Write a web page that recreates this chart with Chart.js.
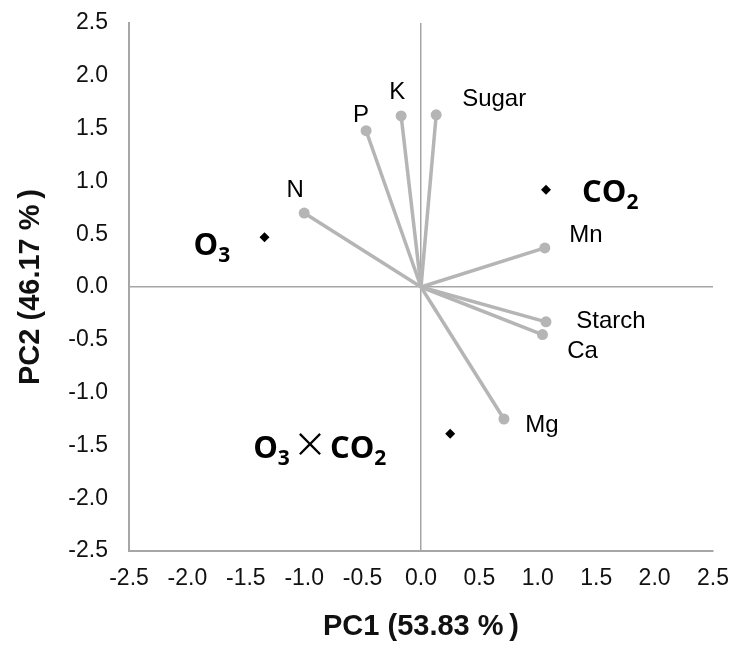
<!DOCTYPE html>
<html>
<head>
<meta charset="utf-8">
<script src="https://cdn.jsdelivr.net/npm/chart.js@4"></script>
<style>
  body { margin: 0; background: #fff; }
  #wrap { width: 729px; height: 645px; }
</style>
</head>
<body>
<div id="wrap"><canvas id="pca"></canvas></div>
<script>
// loadings (variables)
const varNames = ['P', 'K', 'Sugar', 'N', 'Mn', 'Starch', 'Ca', 'Mg'];
const varPC1 = [-0.47, -0.17, 0.13, -1.00, 1.06, 1.07, 1.04, 0.71];
const varPC2 = [1.48, 1.62, 1.63, 0.70, 0.37, -0.33, -0.45, -1.25];

// treatment scores
const trtNames = ['CO2', 'O3', 'O3xCO2'];
const trtPC1 = [1.07, -1.34, 0.25];
const trtPC2 = [0.92, 0.47, -1.39];

const axisTicks = [-2.5, -2.0, -1.5, -1.0, -0.5, 0.0, 0.5, 1.0, 1.5, 2.0, 2.5];

// label placement, pixel offset from the point (centre of text)
const varLabelOffset = {
  P: [-5, -15], K: [-4, -24], Sugar: [58, -15], N: [-9, -23],
  Mn: [41, -13], Starch: [65, 0], Ca: [40, 17], Mg: [38, 6]
};
// left edge / baseline offset for the bold treatment labels
const trtLabelOffset = { CO2: [36, 12], O3: [-71, 18], O3xCO2: [-197, 24] };

const gray = '#b5b5b5';
const tickFont = '"Liberation Sans", Arial, sans-serif';

const datasets = varNames.map((n, i) => ({
  label: n,
  data: [{ x: 0, y: 0 }, { x: varPC1[i], y: varPC2[i] }],
  showLine: true,
  borderColor: gray,
  borderWidth: 3.5,
  backgroundColor: gray,
  pointBackgroundColor: gray,
  pointBorderColor: gray,
  pointRadius: [0, 5.5],
  pointBorderWidth: 0
}));
datasets.push({
  label: 'treatments',
  data: trtNames.map((n, i) => ({ x: trtPC1[i], y: trtPC2[i] })),
  pointStyle: 'rectRot',
  pointRadius: 5,
  backgroundColor: '#000',
  borderColor: '#000',
  borderWidth: 0
});

const boldFont = s => 'bold ' + s + 'px "Open Sans", Lato, sans-serif';
const trtParts = {
  CO2: [['CO', 0], ['2', 1]],
  O3: [['O', 0], ['3', 1]],
  O3xCO2: [['O', 0], ['3', 1], ['\u00d7', 2], ['CO', 0], ['2', 1]]
};

function drawParts(ctx, parts, x, y, size) {
  let cx = x;
  parts.forEach(([t, kind]) => {
    if (kind === 1) {
      ctx.font = boldFont(Math.round(size * 0.68));
      ctx.fillText(t, cx, y + 7);
      cx += ctx.measureText(t).width;
    } else if (kind === 2) {
      ctx.font = Math.round(size * 1.1) + 'px "Noto Sans CJK JP", sans-serif';
      cx += 3;
      ctx.fillText(t, cx, y - 1);
      cx += ctx.measureText(t).width + 3;
    } else {
      ctx.font = boldFont(size);
      ctx.fillText(t, cx, y);
      cx += ctx.measureText(t).width;
    }
  });
}

const labelPlugin = {
  id: 'pcaLabels',
  afterDatasetsDraw(chart) {
    const ctx = chart.ctx;
    const xs = chart.scales.x, ys = chart.scales.y;
    ctx.save();
    ctx.fillStyle = '#000';
    ctx.textAlign = 'center';
    ctx.textBaseline = 'middle';
    ctx.font = '24px ' + tickFont;
    varNames.forEach((n, i) => {
      const o = varLabelOffset[n];
      ctx.fillText(n, xs.getPixelForValue(varPC1[i]) + o[0], ys.getPixelForValue(varPC2[i]) + o[1]);
    });
    ctx.textAlign = 'left';
    ctx.textBaseline = 'alphabetic';
    trtNames.forEach((n, i) => {
      const o = trtLabelOffset[n];
      drawParts(ctx, trtParts[n], xs.getPixelForValue(trtPC1[i]) + o[0], ys.getPixelForValue(trtPC2[i]) + o[1], 31);
    });
    ctx.restore();
  }
};

function axis(title, tickPad, titlePad, fit) {
  return {
    type: 'linear',
    min: -2.5,
    max: 2.5,
    afterBuildTicks: s => { s.ticks = axisTicks.map(v => ({ value: v })); },
    afterFit: fit,
    ticks: {
      color: '#111',
      font: { family: tickFont, size: 23 },
      callback: v => v.toFixed(1),
      padding: tickPad
    },
    grid: {
      color: c => (c.tick && c.tick.value === 0 ? '#a6a6a6' : 'rgba(0,0,0,0)'),
      lineWidth: 1.5,
      drawTicks: false
    },
    border: { display: true, color: '#a6a6a6', width: 2 },
    title: {
      display: true,
      text: title,
      color: '#111',
      padding: titlePad,
      font: { family: tickFont, size: 29, weight: 'bold' }
    }
  };
}

// fixed axis sizes so the plot box sits where the original one does
const fitX = s => { s.height = 94; s.paddingLeft = 0; s.paddingRight = 0; };
const fitY = s => { s.width = 129; s.paddingTop = 0; s.paddingBottom = 0; };

new Chart(document.getElementById('pca'), {
  type: 'scatter',
  data: { datasets },
  options: {
    responsive: true,
    maintainAspectRatio: false,
    animation: false,
    layout: { padding: { top: 23, right: 16, bottom: 0, left: 0 } },
    plugins: { legend: { display: false }, tooltip: { enabled: false } },
    scales: {
      x: Object.assign(axis('PC1 (53.83 %\u2009)', 14, { top: 4, bottom: 1 }, fitX), { position: 'bottom' }),
      y: Object.assign(axis('PC2 (46.17 %\u2009)', 21, { top: 14, bottom: 4 }, fitY), { position: 'left' })
    }
  },
  plugins: [labelPlugin]
});
</script>
</body>
</html>
